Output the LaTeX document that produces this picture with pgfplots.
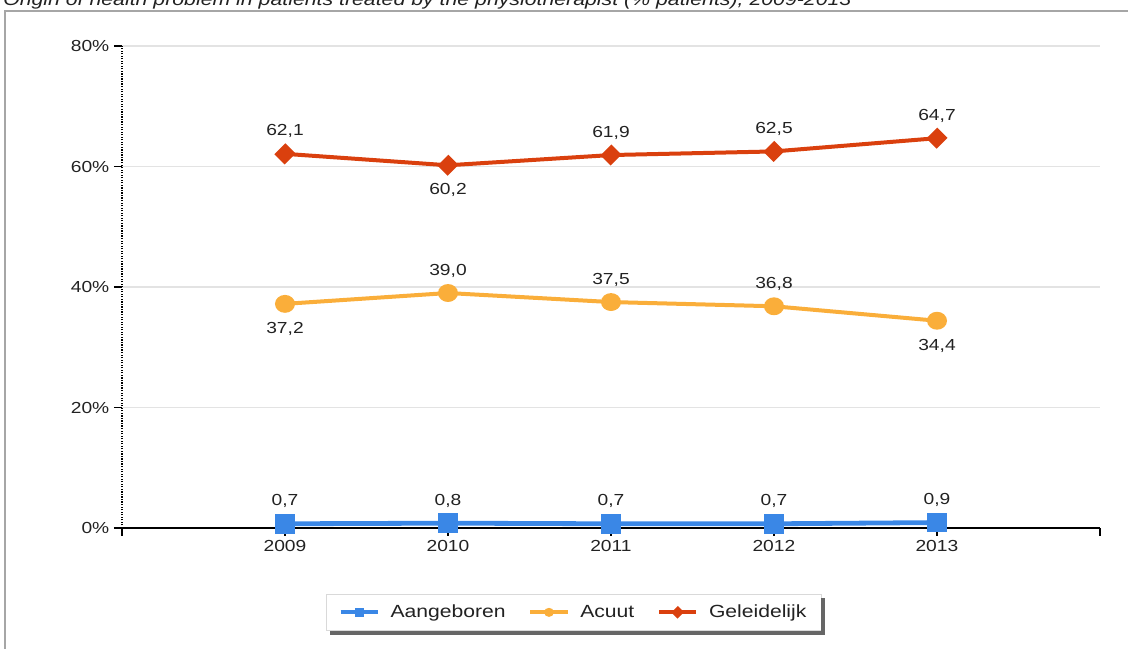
\documentclass[border=0pt]{standalone}
\usepackage{pgfplots}
\pgfplotsset{compat=1.18}
\usepackage{pgfplotstable}
\usepackage{fontspec}
\setmainfont{Liberation Sans}[FakeStretch=1.2]

\definecolor{cAang}{RGB}{58,135,230}
\definecolor{cAcuut}{RGB}{250,174,58}
\definecolor{cGel}{RGB}{218,64,14}
\definecolor{txt}{RGB}{34,34,34}

% dy = label shift in pt (above > 0, below < 0)
\pgfplotstableread{
year val dy
2009 0.7 13.5
2010 0.8 13.5
2011 0.7 13.5
2012 0.7 13.5
2013 0.9 13.5
}\aang
\pgfplotstableread{
year val dy
2009 37.2 -22
2010 39.0 13.5
2011 37.5 13.5
2012 36.8 13.5
2013 34.4 -22
}\acuut
\pgfplotstableread{
year val dy
2009 62.1 13.5
2010 60.2 -22
2011 61.9 13.5
2012 62.5 13.5
2013 64.7 13.5
}\gel

\begin{document}
\begin{tikzpicture}[font=\fontsize{12}{14}\selectfont, x=1pt, y=1pt]
  % outer frame, runs off the right and bottom edges
  \draw[gray!70, line width=0.8pt] (-87.75,387.75) rectangle (770,-100);
  % title, top cut off as in the screenshot
  \node[anchor=base west, inner sep=0pt, font=\fontsize{13.3}{15}\selectfont\itshape, text=txt]
    at (-89.25,391.5) {Origin of health problem in patients treated by the physiotherapist (\% patients), 2009-2013};

  \begin{axis}[
      scale only axis,
      width=733.5pt, height=361.5pt,
      xmin=2008, xmax=2014, ymin=0, ymax=80,
      axis x line=bottom, axis y line=left,
      x axis line style={-, black, line width=1.2pt},
      y axis line style={-, black, densely dotted, line width=0.9pt},
      xtick={2008,...,2014},
      xticklabels={,2009,2010,2011,2012,2013,},
      ytick={0,20,40,60,80},
      yticklabel={\pgfmathprintnumber{\tick}\%},
      /pgf/number format/assume math mode=true,
      tick align=outside, major tick length=6pt,
      tick style={black, line width=1pt},
      ticklabel style={text=txt},
      ymajorgrids, grid style={gray!22, line width=1.2pt},
      visualization depends on={\thisrow{dy}\as\dy},
      nodes near coords={\pgfmathprintnumber[fixed,fixed zerofill,precision=1,use comma]{\pgfplotspointmeta}},
      every node near coord/.append style={anchor=base, inner sep=0pt, yshift=\dy pt, text=txt},
      legend style={name=leg, at={(0.462,-0.175)}, anchor=center, legend columns=3,
        draw=gray!30, fill=white, inner xsep=9pt, inner ysep=6pt,
        font=\fontsize{13.2}{15}\selectfont, text=txt,
        /tikz/every odd column/.append style={column sep=6pt},
        /tikz/every even column/.append style={column sep=15pt}},
      legend image code/.code={
        \draw[#1, line width=3pt, mark repeat=2, mark phase=2, mark size=1.8pt]
          plot coordinates {(0pt,0pt) (14pt,0pt) (28pt,0pt)};},
    ]
    \addplot[cAang, line width=3.6pt, mark=square*, mark size=5.5pt,
             mark options={xscale=1.1}] table[x=year, y=val] {\aang};
    \addlegendentry{Aangeboren}
    \addplot[cAcuut, line width=3pt, mark=*, mark size=5.2pt,
             mark options={xscale=1.15}] table[x=year, y=val] {\acuut};
    \addlegendentry{Acuut}
    \addplot[cGel, line width=3pt, mark=square*, mark size=3.9pt,
             mark options={rotate=45, xscale=1.1}] table[x=year, y=val] {\gel};
    \addlegendentry{Geleidelijk}
  \end{axis}
  % legend shadow (right and bottom)
  \fill[black!60] ([yshift=-3pt]leg.north east) rectangle ([xshift=3pt,yshift=-3pt]leg.south east);
  \fill[black!60] ([xshift=3pt]leg.south west) rectangle ([xshift=3pt,yshift=-3pt]leg.south east);
  \pgfresetboundingbox
  \useasboundingbox (-91.5,-90.75) rectangle (754.5,396);
\end{tikzpicture}
\end{document}
